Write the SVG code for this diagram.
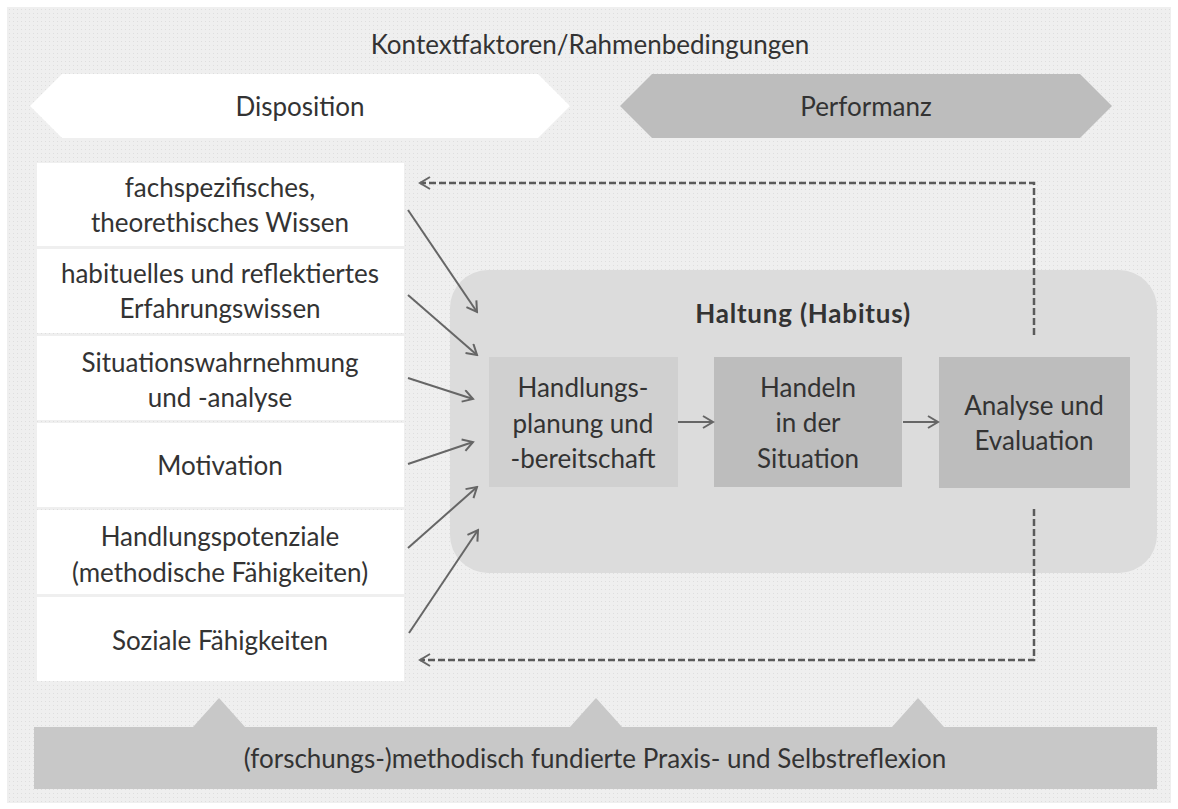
<svg xmlns="http://www.w3.org/2000/svg" width="1178" height="809" viewBox="0 0 1178 809">
  <defs>
    <pattern id="dots" width="4" height="4" patternUnits="userSpaceOnUse">
      <rect width="4" height="4" fill="#efefef"/>
      <rect x="1" y="1" width="1" height="1" fill="#dedede"/>
    </pattern>
    <marker id="chev" viewBox="0 0 14 14" refX="12" refY="7" markerWidth="14" markerHeight="14" markerUnits="userSpaceOnUse" orient="auto">
      <path d="M2,1 L12,7 L2,13" fill="none" stroke="#666" stroke-width="2"/>
    </marker>
  </defs>
  <style>
    text { font-family: Lato, "Open Sans", "Liberation Sans", sans-serif; fill: #333; text-anchor: middle; }
    .t { font-size: 26px; }
    .h { font-size: 26px; font-weight: bold; letter-spacing: 0.8px; }
    .box { fill: #ffffff; }
    .flow { stroke: #666; stroke-width: 2; fill: none; marker-end: url(#chev); }
    .dash { stroke: #5a5a5a; stroke-width: 2.5; fill: none; stroke-dasharray: 7 3; marker-end: url(#chev); }
  </style>

  <rect x="0" y="0" width="1178" height="809" fill="#ffffff"/>
  <rect x="7" y="7" width="1164" height="796" fill="url(#dots)"/>

  <g id="context">
    <text class="t" x="590" y="54">Kontextfaktoren/Rahmenbedingungen</text>
  </g>

  <g id="disposition">
    <polygon points="30,106 62,74 538,74 570,106 538,138 62,138" fill="#ffffff"/>
    <text class="t" x="300" y="116">Disposition</text>
  </g>

  <g id="performanz">
    <polygon points="620,106 652,74 1080,74 1112,106 1080,138 652,138" fill="#bdbdbd"/>
    <text class="t" x="866" y="116">Performanz</text>
  </g>

  <g id="wissen">
    <rect class="box" x="37" y="163" width="367" height="83"/>
    <text class="t" x="220" y="197">fachspezifisches,</text>
    <text class="t" x="220" y="232">theorethisches Wissen</text>
  </g>
  <g id="erfahrung">
    <rect class="box" x="37" y="249" width="367" height="84"/>
    <text class="t" x="220" y="283">habituelles und reflektiertes</text>
    <text class="t" x="220" y="318">Erfahrungswissen</text>
  </g>
  <g id="situation">
    <rect class="box" x="37" y="336" width="367" height="84"/>
    <text class="t" x="220" y="372">Situationswahrnehmung</text>
    <text class="t" x="220" y="407">und -analyse</text>
  </g>
  <g id="motivation">
    <rect class="box" x="37" y="423" width="367" height="84"/>
    <text class="t" x="220" y="475">Motivation</text>
  </g>
  <g id="potenziale">
    <rect class="box" x="37" y="510" width="367" height="84"/>
    <text class="t" x="220" y="546">Handlungspotenziale</text>
    <text class="t" x="220" y="582">(methodische Fähigkeiten)</text>
  </g>
  <g id="sozial">
    <rect class="box" x="37" y="597" width="367" height="84"/>
    <text class="t" x="220" y="650">Soziale Fähigkeiten</text>
  </g>

  <g id="haltung">
    <rect x="450" y="270" width="707" height="303" rx="38" fill="#dcdcdc"/>
    <text class="h" x="803" y="323">Haltung (Habitus)</text>
  </g>
  <g id="planung">
    <rect x="489" y="357" width="189" height="130" fill="#d0d0d0"/>
    <text class="t" x="583" y="397">Handlungs-</text>
    <text class="t" x="583" y="433">planung und</text>
    <text class="t" x="583" y="468">-bereitschaft</text>
  </g>
  <g id="handeln">
    <rect x="714" y="357" width="188" height="130" fill="#bdbdbd"/>
    <text class="t" x="808" y="397">Handeln</text>
    <text class="t" x="808" y="432">in der</text>
    <text class="t" x="808" y="468">Situation</text>
  </g>
  <g id="evaluation">
    <rect x="939" y="357" width="191" height="131" fill="#bdbdbd"/>
    <text class="t" x="1034" y="415">Analyse und</text>
    <text class="t" x="1034" y="450">Evaluation</text>
  </g>

  <g id="reflexion">
    <polygon points="193,727 219,698 245,727" fill="#c8c8c8"/>
    <polygon points="570,727 596,698 622,727" fill="#c8c8c8"/>
    <polygon points="892,727 918,698 944,727" fill="#c8c8c8"/>
    <rect x="34" y="727" width="1123" height="62" fill="#c8c8c8"/>
    <text class="t" x="595" y="768">(forschungs-)methodisch fundierte Praxis- und Selbstreflexion</text>
  </g>

  <g id="connectors">
    <line class="flow" x1="408" y1="210" x2="477" y2="312"/>
    <line class="flow" x1="408" y1="295" x2="477" y2="355"/>
    <line class="flow" x1="408" y1="378" x2="473" y2="399"/>
    <line class="flow" x1="408" y1="464" x2="473" y2="442"/>
    <line class="flow" x1="408" y1="548" x2="477" y2="487"/>
    <line class="flow" x1="409" y1="633" x2="478" y2="530"/>
    <line class="flow" x1="678" y1="422" x2="713" y2="422"/>
    <line class="flow" x1="903" y1="422" x2="938" y2="422"/>
    <path class="dash" d="M1034,335 L1034,183 L420,183"/>
    <path class="dash" d="M1034,509 L1034,660 L420,660"/>
  </g>
</svg>
